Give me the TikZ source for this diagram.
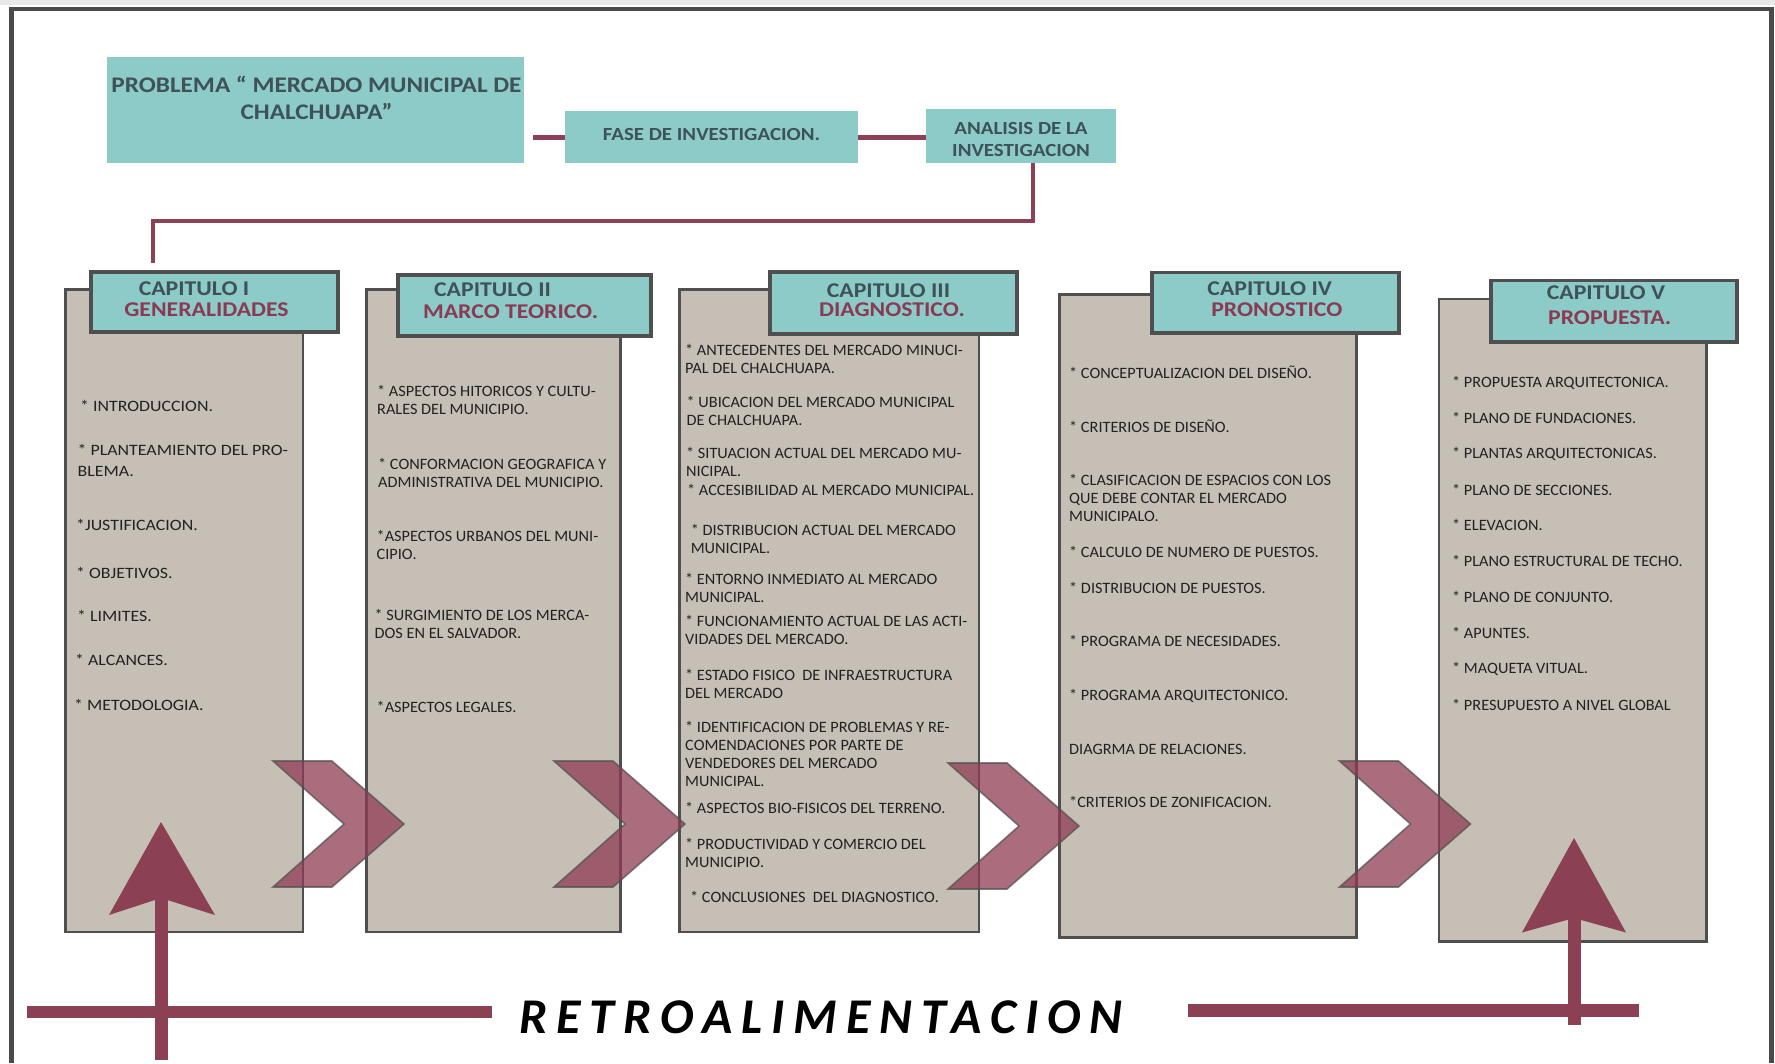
\documentclass[tikz,border=0pt]{standalone}
\usepackage{fontspec}
\setmainfont{Carlito}[FakeStretch=1.13]
\newfontfamily\condfont{Carlito}[FakeStretch=1.03]
\newfontfamily\retrofont{Carlito}[LetterSpace=18]

\definecolor{tealfill}{HTML}{8DCBC8}
\definecolor{boxgray}{HTML}{C5BFB5}
\definecolor{edgegray}{HTML}{4F4F4F}
\definecolor{framegray}{HTML}{4A4A4A}
\definecolor{topstrip}{HTML}{E8E8E8}
\definecolor{mrn}{HTML}{8B4053}
\definecolor{chevfill}{HTML}{8E3A52}
\definecolor{titleslate}{HTML}{3E5257}
\definecolor{subred}{HTML}{8A3A52}
\definecolor{bodyink}{HTML}{222222}

% stacked lines, baseline on the first line
\newcommand\lns[1]{\begin{tabular}[t]{@{}l@{}}#1\end{tabular}}
\newcommand\clns[1]{\begin{tabular}[t]{@{}c@{}}#1\end{tabular}}

\newcommand\bodyfont{\fontsize{15.8}{18}\selectfont}
\newcommand\condbody{\condfont\fontsize{15.8}{18}\selectfont}
\newcommand\hdfont{\fontsize{21}{21}\selectfont\bfseries}
\newcommand\probfont{\fontsize{22.3}{26.5}\selectfont\bfseries}
\newcommand\fasefont{\fontsize{18.5}{21}\selectfont\bfseries}
\newcommand\analfont{\fontsize{18.5}{21.4}\selectfont\bfseries}

\begin{document}
\begin{tikzpicture}[x=1pt,y=-1pt,
  topbox/.style={fill=tealfill, draw=none, inner sep=0pt, anchor=north west, rectangle},
  toptxt/.style={anchor=base, inner sep=0pt, text=titleslate},
  conn/.style={draw=mrn, line width=5pt},
  graybox/.style={fill=boxgray, draw=edgegray, line width=2.6pt, anchor=north west, inner sep=0pt, rectangle},
  hdbox/.style={fill=tealfill, draw=edgegray, line width=3.5pt, anchor=north west, inner sep=0pt, rectangle},
  htitle/.style={anchor=base, inner sep=0pt, font=\hdfont, text=titleslate},
  hsub/.style={anchor=base, inner sep=0pt, font=\hdfont, text=subred},
  itm/.style={anchor=base west, inner sep=0pt, font=\bodyfont, text=bodyink},
  itmc/.style={itm, font=\condbody},
  chevstyle/.style={fill=chevfill, fill opacity=0.74, draw=edgegray, draw opacity=0.7, line width=1.6pt, line join=miter},
  chev/.pic={\path[chevstyle] (0,0) -- (59,0) -- (131,63) -- (59,126) -- (0,126) -- (71,63) -- cycle;},
  fbline/.style={draw=mrn, line width=12pt},
  fbshaft/.style={draw=mrn, line width=13pt},
  fbhead/.style={fill=mrn, draw=none}
]
\useasboundingbox (0,0) rectangle (1775,1063);
\fill[white] (0,0) rectangle (1775,1063);
\fill[topstrip] (0,0) rectangle (1775,5);
% page frame
\draw[framegray, line width=4.5pt] (11.7,1063) -- (11.7,9) -- (1771.5,9) -- (1771.5,1063);

% ---- research phase ----
\node[topbox, minimum width=417pt, minimum height=106pt] (prob) at (107,57) {};
\node[topbox, minimum width=293pt, minimum height=52pt] (fase) at (565,111) {};
\node[topbox, minimum width=189.5pt, minimum height=54pt] (anal) at (926,109) {};
\node[toptxt, font=\probfont] (probt) at (316.5,92.5) {\clns{PROBLEMA “ MERCADO MUNICIPAL DE\\CHALCHUAPA”}};
\node[toptxt, font=\fasefont] (faset) at (711.5,140.5) {FASE DE INVESTIGACION.};
\node[toptxt, font=\analfont] (analt) at (1021,134.8) {\clns{ANALISIS DE LA\\INVESTIGACION}};

\draw[conn, shorten <=9pt] (prob.east |- fase.west) -- (fase.west);
\draw[conn] (fase.east) -- (fase.east -| anal.west);

% ---- chapter columns ----
\node[graybox, minimum width=237.5pt, minimum height=642.5pt] (b1) at (64,288) {};
\node[graybox, minimum width=254pt, minimum height=642.5pt] (b2) at (365,288) {};
\node[graybox, minimum width=299.5pt, minimum height=642.5pt] (b3) at (678,288) {};
\node[graybox, minimum width=297pt, minimum height=643pt] (b4) at (1058,293) {};
\node[graybox, minimum width=267.5pt, minimum height=642.5pt] (b5) at (1437.5,297.5) {};

\node[hdbox, minimum width=247pt, minimum height=60pt] (h1) at (89,270) {};
\node[hdbox, minimum width=253pt, minimum height=61pt] (h2) at (396,273) {};
\node[hdbox, minimum width=247pt, minimum height=62pt] (h3) at (768,270) {};
\node[hdbox, minimum width=247pt, minimum height=60.5pt] (h4) at (1150,270.5) {};
\node[hdbox, minimum width=246pt, minimum height=61.5pt] (h5) at (1489,278.5) {};

\draw[conn, line width=4pt, shorten >=7pt] ([xshift=12.5pt]anal.south) -- ++(0,58) -| ([xshift=-61.5pt]h1.north);

\node[htitle] (h1t) at (194,295) {CAPITULO I};
\node[hsub]   (h1s) at (206.5,316) {GENERALIDADES};
\node[htitle] (h2t) at (492.6,296.5) {CAPITULO II};
\node[hsub]   (h2s) at (510.7,318) {MARCO TEORICO.};
\node[htitle] (h3t) at (888.5,297) {CAPITULO III};
\node[hsub]   (h3s) at (892,316.5) {DIAGNOSTICO.};
\node[htitle] (h4t) at (1269.7,295.5) {CAPITULO IV};
\node[hsub]   (h4s) at (1276.8,316.5) {PRONOSTICO};
\node[htitle] (h5t) at (1606,299.5) {CAPITULO V};
\node[hsub]   (h5s) at (1609.7,324.5) {PROPUESTA.};

% chapter I
\node[itm] (c1a) at (80,411) {* INTRODUCCION.};
\node[itm] (c1b) at (77.5,455.5) {\lns{* PLANTEAMIENTO DEL PRO-\\[3pt]BLEMA.}};
\node[itm] (c1c) at (76,530.5) {*JUSTIFICACION.};
\node[itm] (c1d) at (76,578) {* OBJETIVOS.};
\node[itm] (c1e) at (77,621) {* LIMITES.};
\node[itm] (c1f) at (75,665) {* ALCANCES.};
\node[itm] (c1g) at (74,710) {* METODOLOGIA.};

% chapter II
\node[itmc] (c2a) at (377,396.5) {\lns{* ASPECTOS HITORICOS Y CULTU-\\RALES DEL MUNICIPIO.}};
\node[itmc] (c2b) at (378,469) {\lns{* CONFORMACION GEOGRAFICA Y\\ADMINISTRATIVA DEL MUNICIPIO.}};
\node[itmc] (c2c) at (376.5,541) {\lns{*ASPECTOS URBANOS DEL MUNI-\\CIPIO.}};
\node[itmc] (c2d) at (374.5,620) {\lns{* SURGIMIENTO DE LOS MERCA-\\DOS EN EL SALVADOR.}};
\node[itmc] (c2e) at (376.5,712) {*ASPECTOS LEGALES.};

% chapter III
\node[itmc] (c3a) at (685,355.5) {\lns{* ANTECEDENTES DEL MERCADO MINUCI-\\PAL DEL CHALCHUAPA.}};
\node[itmc] (c3b) at (686.5,407.7) {\lns{* UBICACION DEL MERCADO MUNICIPAL\\DE CHALCHUAPA.}};
\node[itmc] (c3c) at (686,458.7) {\lns{* SITUACION ACTUAL DEL MERCADO MU-\\NICIPAL.}};
\node[itmc] (c3d) at (687,495) {* ACCESIBILIDAD AL MERCADO MUNICIPAL.};
\node[itmc] (c3e) at (690.6,535) {\lns{* DISTRIBUCION ACTUAL DEL MERCADO\\MUNICIPAL.}};
\node[itmc] (c3f) at (685,584) {\lns{* ENTORNO INMEDIATO AL MERCADO\\MUNICIPAL.}};
\node[itmc] (c3g) at (685,626) {\lns{* FUNCIONAMIENTO ACTUAL DE LAS ACTI-\\VIDADES DEL MERCADO.}};
\node[itmc] (c3h) at (685,680.5) {\lns{* ESTADO FISICO\ \ DE INFRAESTRUCTURA\\DEL MERCADO}};
\node[itmc] (c3i) at (685,732) {\lns{* IDENTIFICACION DE PROBLEMAS Y RE-\\COMENDACIONES POR PARTE DE\\VENDEDORES DEL MERCADO\\MUNICIPAL.}};
\node[itmc] (c3j) at (685,813) {* ASPECTOS BIO-FISICOS DEL TERRENO.};
\node[itmc] (c3k) at (685,849) {\lns{* PRODUCTIVIDAD Y COMERCIO DEL\\MUNICIPIO.}};
\node[itmc] (c3l) at (690,902) {* CONCLUSIONES\ \ DEL DIAGNOSTICO.};

% chapter IV
\node[itmc] (c4a) at (1069,378) {* CONCEPTUALIZACION DEL DISEÑO.};
\node[itmc] (c4b) at (1069,432) {* CRITERIOS DE DISEÑO.};
\node[itmc] (c4c) at (1069,485.7) {\lns{* CLASIFICACION DE ESPACIOS CON LOS\\QUE DEBE CONTAR EL MERCADO\\MUNICIPALO.}};
\node[itmc] (c4d) at (1069,557.7) {* CALCULO DE NUMERO DE PUESTOS.};
\node[itmc] (c4e) at (1069,593.3) {* DISTRIBUCION DE PUESTOS.};
\node[itmc] (c4f) at (1069,646.7) {* PROGRAMA DE NECESIDADES.};
\node[itmc] (c4g) at (1069,700) {* PROGRAMA ARQUITECTONICO.};
\node[itmc] (c4h) at (1069,754) {DIAGRMA DE RELACIONES.};
\node[itmc] (c4i) at (1069,807) {*CRITERIOS DE ZONIFICACION.};

% chapter V
\node[itmc] (c5a) at (1452,387.7) {* PROPUESTA ARQUITECTONICA.};
\node[itmc] (c5b) at (1452,423.3) {* PLANO DE FUNDACIONES.};
\node[itmc] (c5c) at (1452,458.3) {* PLANTAS ARQUITECTONICAS.};
\node[itmc] (c5d) at (1452,495) {* PLANO DE SECCIONES.};
\node[itmc] (c5e) at (1452,530.7) {* ELEVACION.};
\node[itmc] (c5f) at (1452,566.7) {* PLANO ESTRUCTURAL DE TECHO.};
\node[itmc] (c5g) at (1452,602.3) {* PLANO DE CONJUNTO.};
\node[itmc] (c5h) at (1452,638.3) {* APUNTES.};
\node[itmc] (c5i) at (1452,673.3) {* MAQUETA VITUAL.};
\node[itmc] (c5j) at (1452,710) {* PRESUPUESTO A NIVEL GLOBAL};

% step chevrons between the columns
\pic at (273,761) {chev};
\pic at (554,761) {chev};
\pic at (948,763) {chev};
\pic at (1339.5,761) {chev};

% feedback band
\node[anchor=base west, inner sep=0pt, font=\retrofont\fontsize{50}{50}\selectfont\bfseries\itshape, text=black] (retro) at (519,1033) {RETROALIMENTACION};
\coordinate (fbL1) at (27,1012);
\coordinate (fbL2) at (492,1012);
\coordinate (fbR1) at (1188,1010.5);
\coordinate (fbR2) at (1639,1010.5);
\draw[fbline] (fbL1) -- (fbL2);
\draw[fbline, line width=13pt] (fbR1) -- (fbR2);

\coordinate (upA) at (161,1060);
\coordinate (tipA) at (161,822);
\draw[fbshaft] (upA) -- (161,895);
\fill[fbhead] (tipA) -- (215,915) -- (161,898) -- (109,915) -- cycle;

\coordinate (upB) at (1574,1025);
\coordinate (tipB) at (1574,838);
\draw[fbshaft] (upB) -- (1574,912);
\fill[fbhead] (tipB) -- (1626,932.5) -- (1574,918) -- (1522,932.5) -- cycle;
\end{tikzpicture}
\end{document}
